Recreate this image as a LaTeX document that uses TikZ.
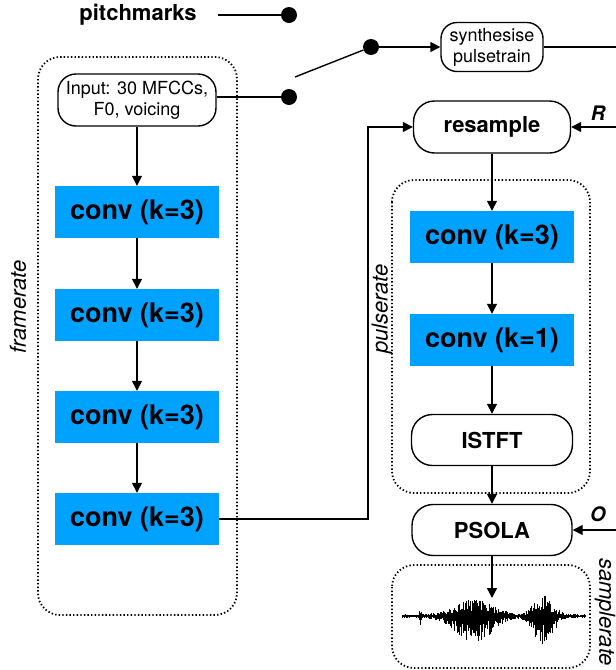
\documentclass[tikz,border=0pt]{standalone}
\usepackage{fontspec}
\setmainfont{TeX Gyre Heros}
\usetikzlibrary{arrows.meta}
\definecolor{convblue}{RGB}{0,162,255}
\begin{document}
\begin{tikzpicture}[x=1pt,y=-1pt,
  rbox/.style={draw,line width=1.4pt,rounded corners=21pt,minimum width=158pt,minimum height=52pt,inner sep=0pt,font=\fontsize{22}{26}\selectfont\bfseries},
  convbox/.style={fill=convblue,minimum width=164pt,minimum height=52pt,inner sep=0pt,font=\fontsize{27}{30}\selectfont\bfseries},
  arr/.style={line width=1.4pt,-{Triangle[length=10pt,width=10pt]}},
  ln/.style={line width=1.4pt},
  dotbox/.style={line width=1.8pt,dash pattern=on 1.4pt off 2.2pt,rounded corners=22pt},
  dot/.style={circle,fill=black,minimum size=16pt,inner sep=0pt},
  rlab/.style={font=\fontsize{22}{26}\selectfont\itshape,inner sep=0pt},
  inlab/.style={font=\fontsize{20}{24}\selectfont\bfseries\itshape,inner sep=0pt}
]
\useasboundingbox (0,0) rectangle (616,670);

% dotted groups
\draw[dotbox] (38,57) rectangle (237,615);
\draw[dotbox] (392,180) rectangle (590,493);
\draw[dotbox] (392,565) rectangle (590,668);

% top: pitchmarks and switch
\node[font=\fontsize{22}{26}\selectfont\bfseries,inner sep=0pt] (pm) at (138,15) {pitchmarks};
\node[dot] (pmdot) at (289,15) {};
\draw[ln] ([xshift=21pt]pm.east) -- (pmdot);

\node[rbox,rounded corners=18pt,font=\fontsize{18}{21}\selectfont,align=center] (inp) at (137,100) {Input: 30 MFCCs,\\F0, voicing};
\node[dot] (indot) at (289,97) {};
\draw[ln] (inp.east |- indot) -- (indot);

\coordinate (swa) at (295,77);
\node[dot] (swdot) at (371,47) {};
\draw[ln] (swa) -- (swdot);

\node[rbox,minimum width=102pt,minimum height=49pt,rounded corners=16pt,font=\fontsize{18}{21}\selectfont,align=center] (syn) at (492,47) {synthesise\\pulsetrain};
\draw[arr] (swdot) -- (syn);
\coordinate (synout) at (616,47);
\draw[ln] (syn) -- (synout);

% left column
\node[convbox] (c1) at (137,212) {conv (k=3)};
\node[convbox] (c2) at (137,315) {conv (k=3)};
\node[convbox] (c3) at (137,417) {conv (k=3)};
\node[convbox] (c4) at (137,519) {conv (k=3)};
\draw[arr] (inp) -- (c1);
\draw[arr] (c1) -- (c2);
\draw[arr] (c2) -- (c3);
\draw[arr] (c3) -- (c4);

\node[rlab,rotate=90] (fr) at (18,307) {framerate};

% right column
\node[rbox,minimum width=157pt] (res) at (492,127) {resample};
\coordinate (rin) at (616,127);
\draw[arr] (rin) -- (res);
\node[inlab] (rl) at (598,113) {R};

\coordinate (bx) at (368,0);
\draw[arr] (c4.east) -| (bx |- res.west) -- (res.west);

\node[convbox] (rc1) at (492,237) {conv (k=3)};
\node[convbox] (rc2) at (492,340) {conv (k=1)};
\node[rbox,minimum width=161pt,minimum height=51pt] (ist) at (492,440) {ISTFT};
\node[rbox,minimum width=160pt,minimum height=51pt] (pso) at (492,530) {PSOLA};
\draw[arr] (res) -- (rc1);
\draw[arr] (rc1) -- (rc2);
\draw[arr] (rc2) -- (ist);
\draw[arr] (ist) -- (pso);

\coordinate (oin) at (616,530);
\draw[arr] (oin) -- (pso);
\node[inlab] (ol) at (598,514) {O};

\node[rlab,rotate=90] (pr) at (382,309) {pulserate};
\node[rlab,rotate=-90] (sr) at (605,612) {samplerate};

% waveform
\coordinate (wtop) at (492,598);
\draw[arr] (pso) -- (wtop);
\pgfmathsetseed{42}
\foreach \i in {0,...,262} {
  \pgfmathsetmacro{\wx}{402+\i*0.7}
  \pgfmathsetmacro{\ea}{exp(-min(((\wx-474)/25)^2,20))}
  \pgfmathsetmacro{\eb}{exp(-min(((\wx-543)/13)^2,20))}
  \pgfmathsetmacro{\es}{max(0,1-abs(\wx-420)/2.5)}
  \pgfmathsetmacro{\up}{(1.8+15*\ea+19*\eb+8*\es)*(0.25+0.75*rnd)}
  \pgfmathsetmacro{\dn}{(1.8+25*\ea+27*\eb+8*\es)*(0.25+0.75*rnd)}
  \draw[line width=0.55pt] (\wx,616-\up) -- (\wx,616+\dn);
}
\draw[line width=1pt] (402,616) -- (585,616);
\end{tikzpicture}
\end{document}
